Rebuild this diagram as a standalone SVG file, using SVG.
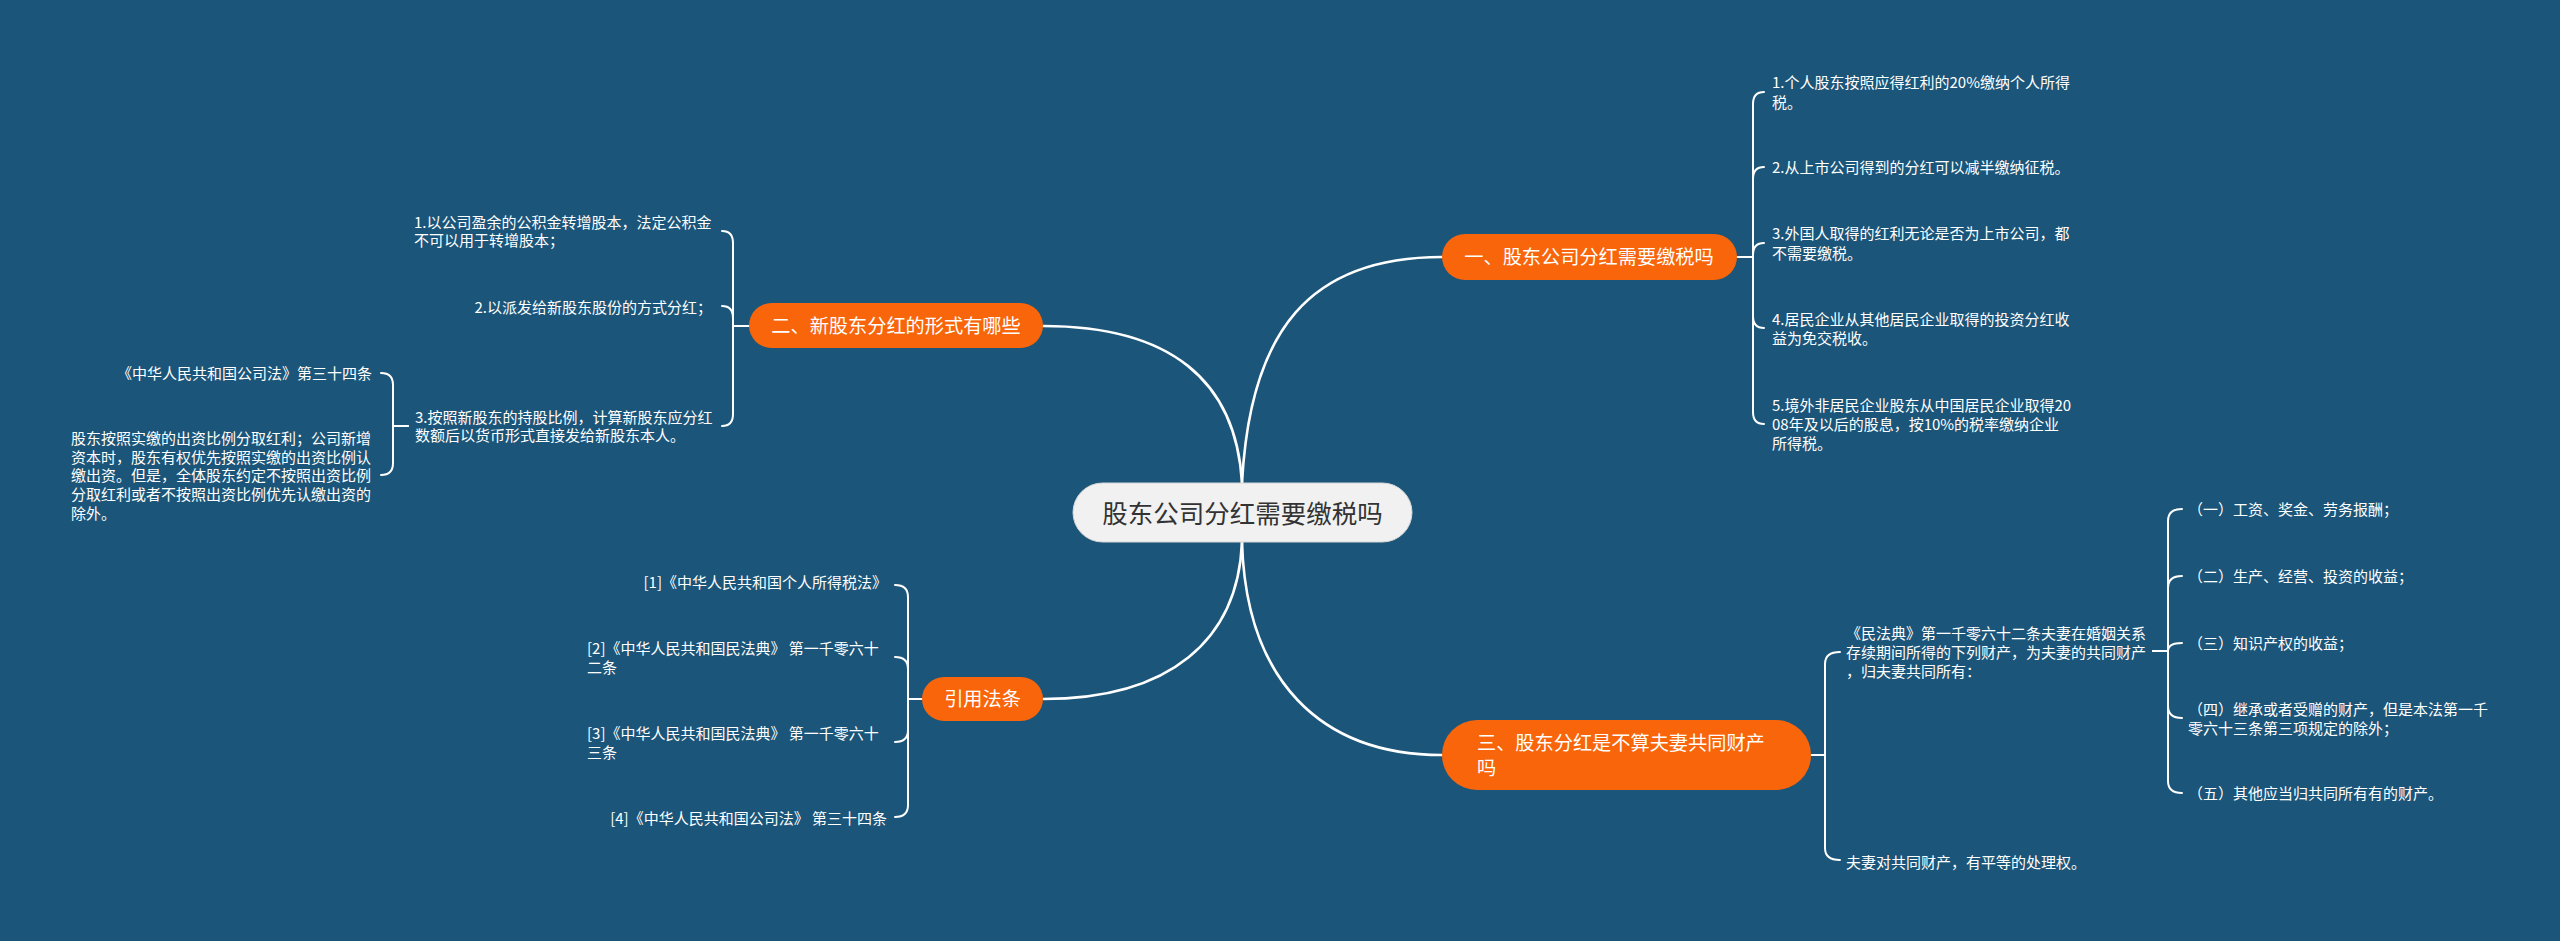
<svg xmlns="http://www.w3.org/2000/svg" width="2560" height="941" viewBox="0 0 2560 941">
<defs>
<style>
.bg{fill:#1b5579}
.main{fill:#f1f1f1;stroke:#d6d6d6;stroke-width:1}
.br{fill:#f8650a}
.c1{fill:none;stroke:#ffffff;stroke-width:2.6;stroke-linecap:round}
.c2{fill:none;stroke:#ffffff;stroke-width:2;stroke-linecap:round;stroke-linejoin:round}
text{font-family:"Noto Sans CJK SC","Noto Sans",sans-serif}
.tm{font-size:25.5px;fill:#333333;text-anchor:middle}
.tb{font-size:19.2px;fill:#ffffff}
.tl{font-size:15px;fill:#ffffff}
.e{text-anchor:end}
.m{text-anchor:middle}
</style>
</defs>
<rect class="bg" x="0" y="0" width="2560" height="941"/>

<g id="connectors">
<path class="c1" d="M1242,483 C1250,330 1310,257 1442,257"/>
<path class="c1" d="M1242,483 C1236,380 1170,326 1043,326"/>
<path class="c1" d="M1242,542 C1238,640 1170,699 1043,699"/>
<path class="c1" d="M1242,542 C1246,680 1320,755 1442,755"/>

<path class="c2" d="M1737,257 H1753 V104 Q1753,92 1764,92"/>
<path class="c2" d="M1737,257 H1753 V179 Q1753,167 1764,167"/>
<path class="c2" d="M1737,257 H1753 V255 Q1753,243 1764,243"/>
<path class="c2" d="M1737,257 H1753 V316 Q1753,328 1764,328"/>
<path class="c2" d="M1737,257 H1753 V412 Q1753,424 1764,424"/>

<path class="c2" d="M749,326 H733 V243 Q733,231 722,231"/>
<path class="c2" d="M749,326 H733 V318 Q733,306 722,306"/>
<path class="c2" d="M749,326 H733 V414 Q733,426 722,426"/>

<path class="c2" d="M408,426 H393 V385 Q393,373 381,373"/>
<path class="c2" d="M408,426 H393 V463 Q393,475 381,475"/>

<path class="c2" d="M922,699 H908 V597 Q908,585 895,585"/>
<path class="c2" d="M922,699 H908 V669 Q908,657 895,657"/>
<path class="c2" d="M922,699 H908 V730 Q908,742 895,742"/>
<path class="c2" d="M922,699 H908 V805 Q908,817 895,817"/>

<path class="c2" d="M1811,755 H1825 V664 Q1825,652 1840,652"/>
<path class="c2" d="M1811,755 H1825 V848 Q1825,860 1840,860"/>

<path class="c2" d="M2153,651 H2168 V521 Q2168,509 2182,509"/>
<path class="c2" d="M2153,651 H2168 V588 Q2168,576 2182,576"/>
<path class="c2" d="M2153,651 H2168 Q2168,643 2182,643"/>
<path class="c2" d="M2153,651 H2168 V706 Q2168,718 2182,718"/>
<path class="c2" d="M2153,651 H2168 V781 Q2168,793 2182,793"/>
</g>

<g id="center">
<rect class="main" x="1073" y="483" width="339" height="59" rx="29.5"/>
<text class="tm" x="1242.5" y="522.5">股东公司分红需要缴税吗</text>
</g>

<g id="b1">
<rect class="br" x="1442" y="234" width="295" height="46" rx="23"/>
<text class="tb m" x="1589" y="264">一、股东公司分红需要缴税吗</text>
</g>
<g id="b2">
<rect class="br" x="749" y="303" width="294" height="45" rx="22.5"/>
<text class="tb m" x="896" y="333">二、新股东分红的形式有哪些</text>
</g>
<g id="b3">
<rect class="br" x="922" y="677" width="121" height="44" rx="22"/>
<text class="tb m" x="982.5" y="706">引用法条</text>
</g>
<g id="b4">
<rect class="br" x="1442" y="720" width="369" height="70" rx="35"/>
<text class="tb"><tspan x="1477" y="750">三、股东分红是不算夫妻共同财产</tspan><tspan x="1477" y="775">吗</tspan></text>
</g>

<g id="l1-1"><text class="tl"><tspan x="1772" y="88">1.个人股东按照应得红利的20%缴纳个人所得</tspan><tspan x="1772" y="108">税。</tspan></text></g>
<g id="l1-2"><text class="tl"><tspan x="1772" y="173">2.从上市公司得到的分红可以减半缴纳征税。</tspan></text></g>
<g id="l1-3"><text class="tl"><tspan x="1772" y="239">3.外国人取得的红利无论是否为上市公司，都</tspan><tspan x="1772" y="259">不需要缴税。</tspan></text></g>
<g id="l1-4"><text class="tl"><tspan x="1772" y="325">4.居民企业从其他居民企业取得的投资分红收</tspan><tspan x="1772" y="344">益为免交税收。</tspan></text></g>
<g id="l1-5"><text class="tl"><tspan x="1772" y="411">5.境外非居民企业股东从中国居民企业取得20</tspan><tspan x="1772" y="430">08年及以后的股息，按10%的税率缴纳企业</tspan><tspan x="1772" y="449">所得税。</tspan></text></g>

<g id="l2-1"><text class="tl"><tspan x="414" y="228">1.以公司盈余的公积金转增股本，法定公积金</tspan><tspan x="414" y="246">不可以用于转增股本；</tspan></text></g>
<g id="l2-2"><text class="tl e" x="712" y="313">2.以派发给新股东股份的方式分红；</text></g>
<g id="l2-3"><text class="tl"><tspan x="415" y="423">3.按照新股东的持股比例，计算新股东应分红</tspan><tspan x="415" y="441">数额后以货币形式直接发给新股东本人。</tspan></text></g>
<g id="l2-3a"><text class="tl e" x="372" y="379">《中华人民共和国公司法》第三十四条</text></g>
<g id="l2-3b"><text class="tl"><tspan x="71" y="444">股东按照实缴的出资比例分取红利；公司新增</tspan><tspan x="71" y="463">资本时，股东有权优先按照实缴的出资比例认</tspan><tspan x="71" y="481">缴出资。但是，全体股东约定不按照出资比例</tspan><tspan x="71" y="500">分取红利或者不按照出资比例优先认缴出资的</tspan><tspan x="71" y="519">除外。</tspan></text></g>

<g id="l3-1"><text class="tl e" x="887" y="588">[1]《中华人民共和国个人所得税法》</text></g>
<g id="l3-2"><text class="tl"><tspan x="587" y="654">[2]《中华人民共和国民法典》 第一千零六十</tspan><tspan x="587" y="673">二条</tspan></text></g>
<g id="l3-3"><text class="tl"><tspan x="587" y="739">[3]《中华人民共和国民法典》 第一千零六十</tspan><tspan x="587" y="758">三条</tspan></text></g>
<g id="l3-4"><text class="tl e" x="887" y="824">[4]《中华人民共和国公司法》 第三十四条</text></g>

<g id="l4-1"><text class="tl"><tspan x="1846" y="639">《民法典》第一千零六十二条夫妻在婚姻关系</tspan><tspan x="1846" y="658">存续期间所得的下列财产，为夫妻的共同财产</tspan><tspan x="1846" y="677">，归夫妻共同所有：</tspan></text></g>
<g id="l4-2"><text class="tl" x="1846" y="868">夫妻对共同财产，有平等的处理权。</text></g>

<g id="l4-1a"><text class="tl" x="2188" y="515">（一）工资、奖金、劳务报酬；</text></g>
<g id="l4-1b"><text class="tl" x="2188" y="582">（二）生产、经营、投资的收益；</text></g>
<g id="l4-1c"><text class="tl" x="2188" y="649">（三）知识产权的收益；</text></g>
<g id="l4-1d"><text class="tl"><tspan x="2188" y="715">（四）继承或者受赠的财产，但是本法第一千</tspan><tspan x="2188" y="734">零六十三条第三项规定的除外；</tspan></text></g>
<g id="l4-1e"><text class="tl" x="2188" y="799">（五）其他应当归共同所有有的财产。</text></g>
</svg>
